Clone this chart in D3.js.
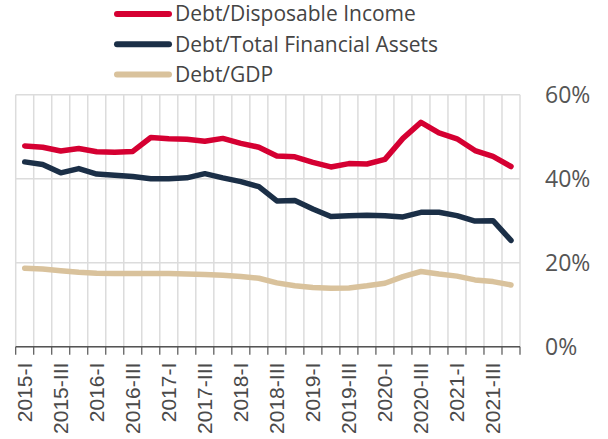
<!DOCTYPE html>
<html>
<head>
<meta charset="utf-8">
<script src="https://cdn.jsdelivr.net/npm/d3@7"></script>
<style>
body { margin: 0; background: #fff; }
text { font-family: "Open Sans", sans-serif; }
</style>
</head>
<body>
<svg class="chart" width="608" height="439"></svg>
<script>
var years = [2015, 2016, 2017, 2018, 2019, 2020, 2021],
	romans = ["I", "II", "III", "IV"];

var quarters = [];
years.forEach(function(y) { romans.forEach(function(r) { quarters.push(y + "-" + r); }); });

var seriesNames = ["Debt/Disposable Income", "Debt/Total Financial Assets", "Debt/GDP"];
var seriesColors = ["#d50032", "#1b2f47", "#d9c29c"];

var debtIncome = [47.8, 47.5, 46.6, 47.2, 46.4, 46.3, 46.5, 49.8, 49.5, 49.4, 48.9, 49.6, 48.4, 47.5, 45.4, 45.2,
	43.9, 42.8, 43.6, 43.5, 44.6, 49.6, 53.4, 50.9, 49.5, 46.7, 45.3, 42.9];
var debtAssets = [44.0, 43.4, 41.4, 42.4, 41.1, 40.8, 40.5, 40.0, 40.0, 40.2, 41.2, 40.2, 39.3, 38.1, 34.7, 34.8,
	32.8, 31.0, 31.2, 31.3, 31.2, 30.9, 32.0, 32.0, 31.2, 29.9, 30.0, 25.3];
var debtGdp = [18.7, 18.5, 18.1, 17.7, 17.5, 17.4, 17.4, 17.4, 17.4, 17.3, 17.2, 17.0, 16.7, 16.3, 15.2, 14.5,
	14.1, 13.9, 14.0, 14.5, 15.1, 16.7, 17.9, 17.3, 16.8, 15.9, 15.5, 14.7];

var yTicks = [0, 20, 40, 60];

var allSeries = [debtIncome, debtAssets, debtGdp];

var plotLeft = 15.7, plotRight = 520, plotTop = 94.7, plotBottom = 346.7;

var chart = d3.select(".chart");

var x = d3.scaleBand()
	.domain(quarters)
	.range([plotLeft, plotRight]);

var y = d3.scaleLinear()
	.domain([0, 60])
	.range([plotBottom, plotTop]);

function edge(d, i) { return i < quarters.length ? x(d) : plotRight; }

// grid
var grid = chart.append("g").attr("class", "grid");

grid.selectAll(".vgrid")
	.data(quarters.concat(["end"]))
  .enter().append("line")
	.attr("x1", edge)
	.attr("x2", edge)
	.attr("y1", plotTop)
	.attr("y2", plotBottom)
	.attr("stroke", "#dcdcdc")
	.attr("stroke-width", 1.5);

grid.selectAll(".hgrid")
	.data(yTicks)
  .enter().append("line")
	.attr("x1", plotLeft)
	.attr("x2", plotRight)
	.attr("y1", function(d) { return y(d); })
	.attr("y2", function(d) { return y(d); })
	.attr("stroke", "#dcdcdc")
	.attr("stroke-width", 1.5);

// x axis
var xAxis = chart.append("g")
	.attr("transform", "translate(0," + plotBottom + ")");

xAxis.append("line")
	.attr("x1", plotLeft)
	.attr("x2", plotRight)
	.attr("stroke", "#555")
	.attr("stroke-width", 1.5);

xAxis.selectAll(".tick")
	.data(quarters.concat(["end"]))
  .enter().append("line")
	.attr("x1", edge)
	.attr("x2", edge)
	.attr("y1", 0)
	.attr("y2", 8)
	.attr("stroke", "#555")
	.attr("stroke-width", 1.2);

xAxis.selectAll(".label")
	.data(quarters.filter(function(d, i) { return i % 2 == 0; }))
  .enter().append("text")
	.attr("transform", function(d) { return "translate(" + (x(d) + x.bandwidth() / 2) + ",16) rotate(-90)"; })
	.attr("text-anchor", "end")
	.attr("dy", "0.35em")
	.style("font-family", "'Liberation Sans', Arial, sans-serif")
	.style("font-size", "21px")
	.attr("fill", "#4a4a4a")
	.text(function(d) { return d; });

// y axis labels on the right
chart.selectAll(".ylabel")
	.data(yTicks)
  .enter().append("text")
	.attr("x", 545)
	.attr("y", function(d) { return y(d); })
	.attr("dy", "0.35em")
	.style("font-size", "23px")
	.attr("fill", "#555")
	.text(function(d) { return d + "%"; });

// lines
var line = d3.line()
	.x(function(d, i) { return x(quarters[i]) + x.bandwidth() / 2; })
	.y(function(d) { return y(d); });

chart.selectAll(".series")
	.data(allSeries)
  .enter().append("path")
	.attr("d", line)
	.attr("fill", "none")
	.attr("stroke", function(d, i) { return seriesColors[i]; })
	.attr("stroke-width", 5.5)
	.attr("stroke-linejoin", "round")
	.attr("stroke-linecap", "round");

// legend
var legend = chart.selectAll(".legend")
	.data(seriesNames)
  .enter().append("g")
	.attr("transform", function(d, i) { return "translate(0," + (14 + i * 30.3) + ")"; });

legend.append("line")
	.attr("x1", 117)
	.attr("x2", 169)
	.attr("stroke", function(d, i) { return seriesColors[i]; })
	.attr("stroke-width", 6)
	.attr("stroke-linecap", "round");

legend.append("text")
	.attr("x", 175)
	.attr("dy", "0.35em")
	.style("font-size", "21px")
	.attr("fill", "#444")
	.text(function(d) { return d; });
</script>
</body>
</html>
